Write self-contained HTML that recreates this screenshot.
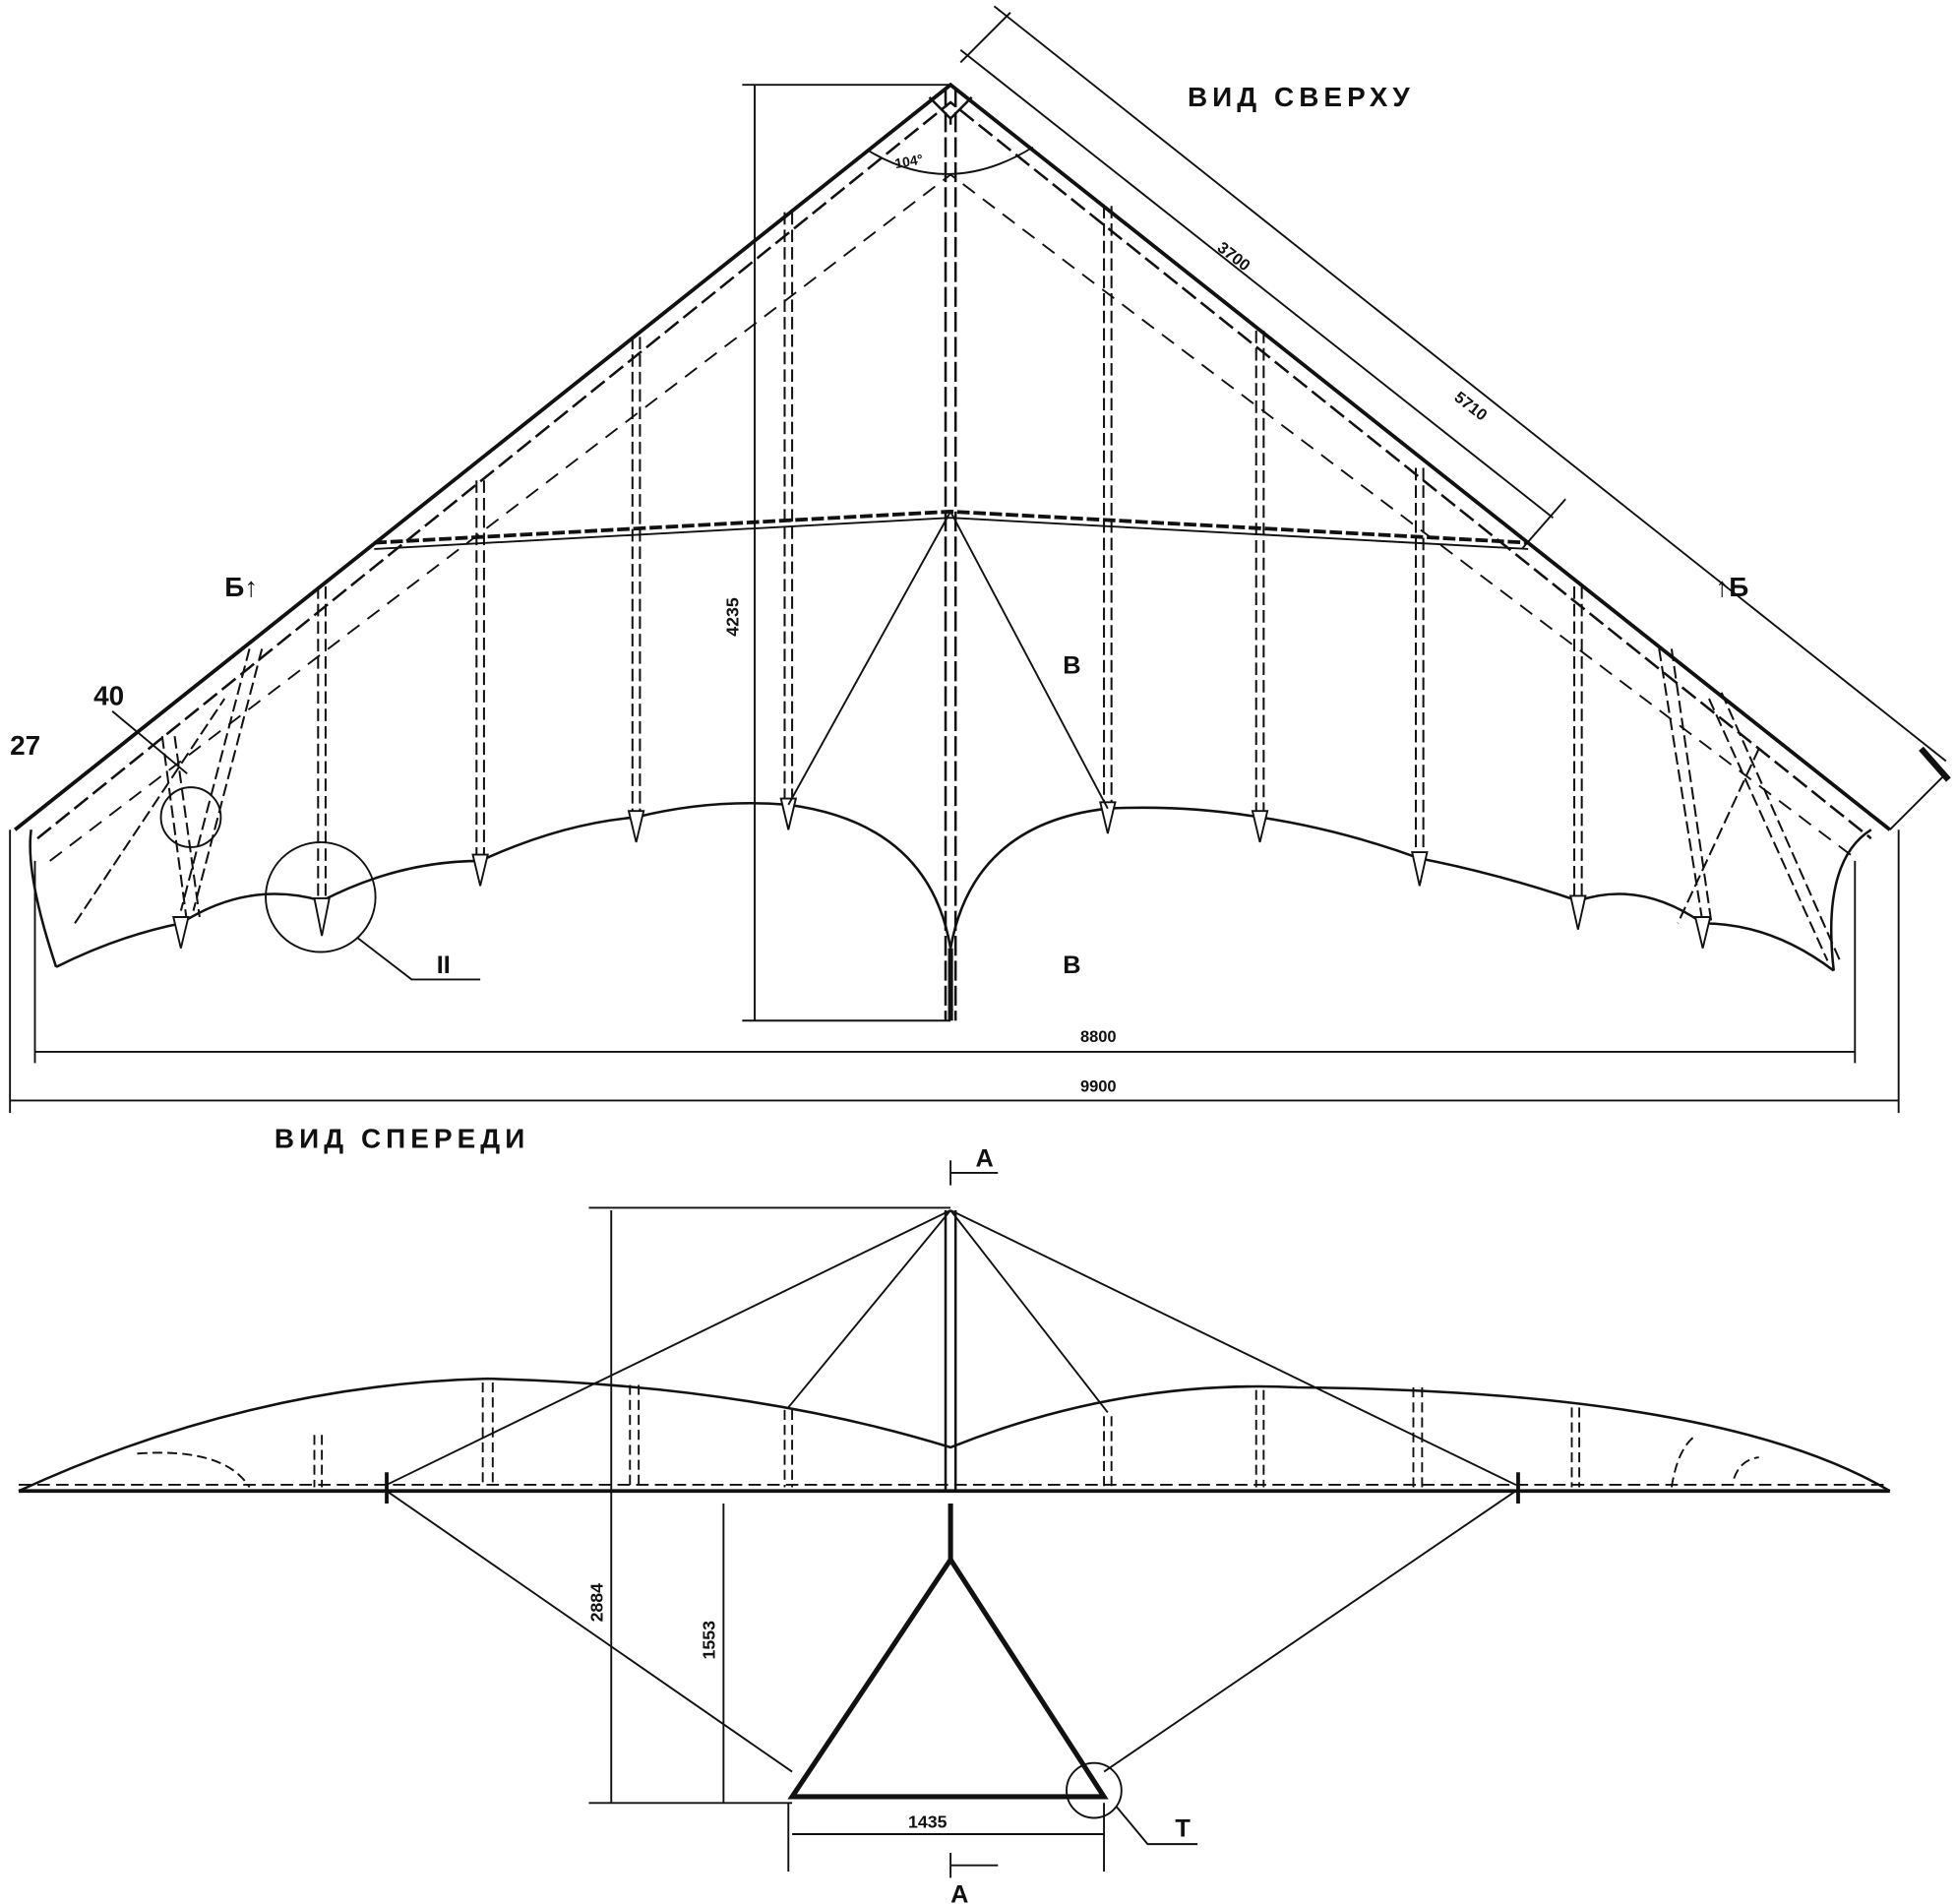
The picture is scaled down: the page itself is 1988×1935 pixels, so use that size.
<!DOCTYPE html>
<html><head><meta charset="utf-8"><style>
html,body{margin:0;padding:0;background:#fff}
svg{display:block}
text{font-family:"Liberation Sans","DejaVu Sans",sans-serif;fill:#111;font-weight:bold}
</style></head><body>
<svg width="1988" height="1935" viewBox="0 0 1568 1526" preserveAspectRatio="none" xmlns="http://www.w3.org/2000/svg">
<g stroke="#111" fill="none" stroke-width="2">
<!-- TOP VIEW -->
<!-- leading edges -->
<path d="M12 665 L762 68 L1515 665" stroke-width="3"/>
<path d="M30 672 L762 82 L1500 672" stroke-dasharray="14 5"/>
<path d="M40 690 L762 140 L1490 690" stroke-dasharray="12 8" stroke-width="1.5"/>
<!-- keel -->
<path d="M758 70 L758 818 M766 70 L766 818" stroke-dasharray="16 4"/>
<!-- crossbar -->
<path d="M300 435 L762 410 L1225 435" stroke-width="3" stroke-dasharray="10 3"/>
<path d="M300 440 L762 415 L1225 440" stroke-width="1.5"/>
<!-- trailing edge -->
<path d="M45 775 Q95 750 145 740 Q200 705 258 722 Q320 690 385 690 Q450 660 510 655 Q570 640 632 645 Q745 660 762 760 Q780 660 888 648 Q950 645 1010 655 Q1075 665 1138 688 Q1200 700 1265 722 Q1315 705 1365 740 Q1420 740 1470 778" stroke-width="2"/>
<path d="M45 775 Q20 700 25 665 M1470 778 Q1460 690 1500 665"/>
<path d="M762 760 L762 818" stroke-width="4"/>
<!-- battens -->
<g stroke-dasharray="10 4" stroke-width="1.6">
<path d="M255 470 L255 725 M261 470 L261 725"/>
<path d="M382 385 L382 690 M388 385 L388 690"/>
<path d="M507 270 L507 655 M513 270 L513 655"/>
<path d="M629 170 L629 645 M635 170 L635 645"/>
<path d="M885 165 L885 648 M891 165 L891 648"/>
<path d="M1007 265 L1007 655 M1013 265 L1013 655"/>
<path d="M1135 375 L1135 688 M1141 375 L1141 688"/>
<path d="M1262 470 L1262 722 M1268 470 L1268 722"/>
<path d="M130 590 L150 740 M140 590 L160 735 M200 520 L145 730 M210 520 L155 730 M60 740 L180 560"/>
<path d="M1330 520 L1365 740 M1340 520 L1372 740 M1410 600 L1345 740 M1370 560 L1465 770 M1380 555 L1475 770"/>
</g>
<g fill="#fff" stroke-width="1.5">
<path d="M252 720 L264 720 L258 750 Z M379 685 L391 685 L385 710 Z M504 650 L516 650 L510 675 Z M626 640 L638 640 L632 665 Z M882 643 L894 643 L888 668 Z M1004 650 L1016 650 L1010 675 Z M1132 683 L1144 683 L1138 710 Z M1259 718 L1271 718 L1265 745 Z M139 735 L151 735 L145 760 Z M1359 735 L1371 735 L1365 760 Z"/>
</g>
<!-- wires -->
<path d="M762 410 L632 645 M762 410 L888 648" stroke-width="1.5"/>
<!-- nose angle -->
<path d="M695 120 Q760 160 828 118" stroke-width="1.5"/>
<path d="M745 78 L762 95 L779 78 M762 95 L762 100"/>
<!-- circles -->
<circle cx="153" cy="655" r="24" stroke-width="1.5"/>
<circle cx="257" cy="719" r="44" stroke-width="1.5"/>
<path d="M287 752 L330 785 L385 785" stroke-width="1.5"/>
<path d="M90 570 L150 620" stroke-width="1.5"/>
<!-- dimensions top -->
<g stroke-width="1.5">
<path d="M605 68 L605 818 M595 68 L762 68 M595 818 L762 818"/>
<path d="M8 665 L8 892 M1522 665 L1522 892 M28 690 L28 852 M1487 690 L1487 852"/>
<path d="M28 843 L1487 843 M8 882 L1522 882"/>
<path d="M797 5 L1560 610 M770 50 L810 10 M1515 665 L1560 620"/>
<path d="M770 40 L1245 415 M1220 440 L1255 400"/>
<path d="M1540 600 L1562 625" stroke-width="5"/>
</g>
<!-- FRONT VIEW -->
<path d="M15 1195 L1515 1195" stroke-width="3"/>
<path d="M15 1190 L1515 1190" stroke-dasharray="10 5" stroke-width="1.5"/>
<path d="M15 1195 Q200 1110 390 1105 Q600 1110 762 1160 Q900 1105 1040 1112 Q1380 1115 1515 1195" stroke-width="2"/>
<path d="M758 970 L758 1195 M766 970 L766 1195" stroke-width="2"/>
<path d="M762 970 L310 1190 M762 970 L632 1128 M762 970 L888 1132 M762 970 L1215 1190" stroke-width="1.5"/>
<g stroke-dasharray="8 4" stroke-width="1.5">
<path d="M252 1150 L252 1192 M258 1150 L258 1192 M387 1108 L387 1192 M395 1108 L395 1192 M505 1110 L505 1192 M512 1110 L512 1192 M629 1130 L629 1192 M635 1130 L635 1192 M885 1135 L885 1192 M891 1135 L891 1192 M1007 1114 L1007 1192 M1013 1114 L1013 1192 M1133 1112 L1133 1192 M1140 1112 L1140 1192 M1260 1128 L1260 1192 M1266 1128 L1266 1192"/>
<path d="M110 1165 Q180 1160 200 1192 M1340 1192 Q1345 1160 1360 1150 M1390 1185 Q1395 1170 1410 1168"/>
</g>
<path d="M310 1180 L310 1205 M1217 1180 L1217 1205" stroke-width="3"/>
<!-- control frame -->
<path d="M762 1205 L762 1250 L635 1440 L885 1440 L762 1250" stroke-width="4"/>
<path d="M310 1195 L635 1420 M1215 1195 L885 1420" stroke-width="1.5"/>
<circle cx="877" cy="1435" r="22" stroke-width="1.5"/>
<path d="M895 1448 L920 1478 L960 1478" stroke-width="1.5"/>
<!-- front dims -->
<g stroke-width="1.5">
<path d="M490 970 L490 1445 M472 968 L762 968 M472 1445 L635 1445"/>
<path d="M580 1205 L580 1445"/>
<path d="M632 1445 L632 1500 M885 1445 L885 1500 M635 1470 L885 1470"/>
<path d="M762 930 L762 950 M762 940 L800 940 M762 1485 L762 1505 M762 1495 L800 1495"/>
</g>
</g>
<g font-size="18">
<text x="952" y="85" font-size="22" letter-spacing="4">ВИД СВЕРХУ</text>
<text x="220" y="920" font-size="22" letter-spacing="4">ВИД СПЕРЕДИ</text>
<text x="180" y="478" font-size="22">Б↑</text>
<text x="1375" y="478" font-size="22">↑Б</text>
<text x="75" y="565" font-size="22" font-weight="normal">40</text>
<text x="8" y="605" font-size="22" font-weight="normal">27</text>
<text x="852" y="540" font-size="20">В</text>
<text x="852" y="780" font-size="20">В</text>
<text x="350" y="780" font-size="20">II</text>
<text x="718" y="135" font-size="11" transform="rotate(-10 718 135)">104°</text>
<text x="592" y="510" font-size="14" transform="rotate(-90 592 510)">4235</text>
<text x="975" y="200" font-size="13" transform="rotate(38 975 200)">3700</text>
<text x="1165" y="320" font-size="13" transform="rotate(38 1165 320)">5710</text>
<text x="866" y="835" font-size="13">8800</text>
<text x="866" y="875" font-size="13">9900</text>
<text x="483" y="1300" font-size="14" transform="rotate(-90 483 1300)">2884</text>
<text x="573" y="1330" font-size="14" transform="rotate(-90 573 1330)">1553</text>
<text x="728" y="1465" font-size="14">1435</text>
<text x="782" y="935" font-size="20">А</text>
<text x="762" y="1525" font-size="20">А</text>
<text x="942" y="1472" font-size="20">Т</text>
</g>
</svg>
</body></html>
